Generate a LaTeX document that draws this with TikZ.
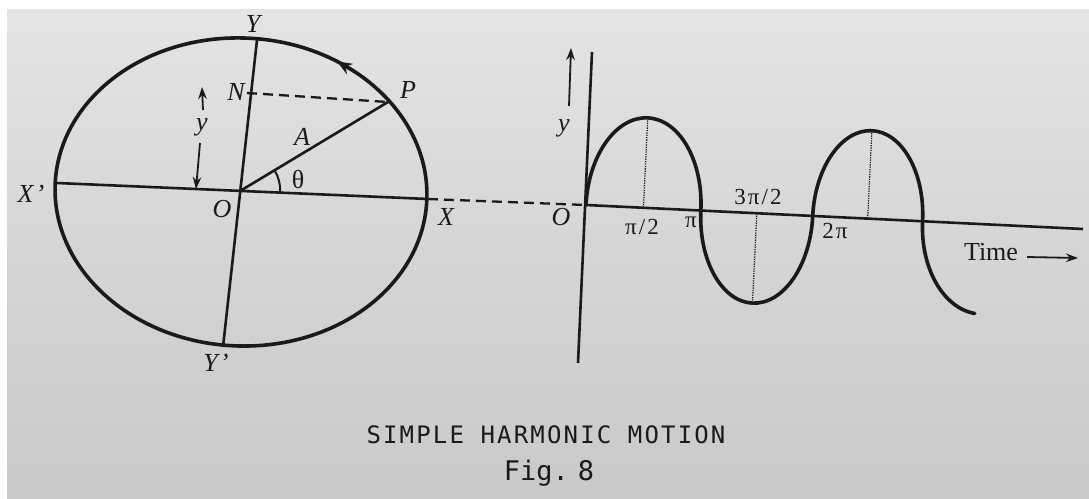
\documentclass[tikz,border=0pt]{standalone}
\usepackage{fontspec}
\setmainfont{Liberation Serif}
\newfontfamily\capfont{DejaVu Sans Mono}
\usetikzlibrary{arrows.meta}
\definecolor{inkc}{HTML}{1A1A1A}
\definecolor{bgtop}{HTML}{E4E4E2}
\definecolor{bgmid}{HTML}{D5D5D3}
\definecolor{bgbot}{HTML}{C9C9C7}
\begin{document}
\begin{tikzpicture}[x=1pt,y=-1pt,
  heavy/.style={draw=inkc, line width=3.6pt},
  axisline/.style={draw=inkc, line width=2.6pt},
  dashline/.style={draw=inkc, line width=2.3pt, dash pattern=on 10pt off 6pt},
  dotline/.style={draw=inkc, line width=1.2pt, dash pattern=on 1.3pt off 1.1pt},
  arrowline/.style={draw=inkc, line width=1.8pt, -{Stealth[length=12pt,width=8.5pt]}},
  lbl/.style={inner sep=0pt, text=inkc, font=\fontsize{26}{28}\selectfont\itshape},
  uplbl/.style={inner sep=0pt, text=inkc, font=\fontsize{26}{28}\selectfont},
  pilbl/.style={inner sep=0pt, text=inkc, font=\fontsize{23}{26}\selectfont\addfontfeatures{LetterSpace=9}},
  timelbl/.style={inner sep=0pt, text=inkc, font=\fontsize{26}{28}\selectfont},
  caplbl/.style={inner sep=0pt, text=inkc, anchor=base, font=\capfont\fontsize{24}{28}\selectfont\addfontfeatures{LetterSpace=9}},
  figlbl/.style={inner sep=0pt, text=inkc, anchor=base, font=\capfont\fontsize{27}{30}\selectfont}
]
\useasboundingbox (0,0) rectangle (1089,498);
\fill[white] (0,0) rectangle (1089,498);
\shade[top color=bgtop, bottom color=bgbot, middle color=bgmid] (7,9) rectangle (1089,498);

% ---------- left: reference circle ----------
\coordinate (C) at (241,192);
\draw[heavy, rotate around={-2.5:(C)}] (C) ellipse [x radius=186, y radius=154];
\begin{scope}[shift={(C)}, rotate=-2.5]
  \coordinate (e1) at ({186*cos(53)},{-154*sin(53)});
  \coordinate (e2) at ({186*cos(61)},{-154*sin(61)});
\end{scope}
\draw[draw=inkc, line width=2.8pt, -{Stealth[length=15pt,width=12pt]}] (e1) -- (e2);

\coordinate (Xl) at (57,183);
\coordinate (Xr) at (428,199);
\coordinate (Yt) at (257,40);
\coordinate (Yb) at (223,347);
\coordinate (O) at (intersection of Xl--Xr and Yt--Yb);
\coordinate (N) at (247,93);
\coordinate (P) at (388,102);
\draw[axisline] (Xl) -- (Xr);
\draw[axisline] (Yt) -- (Yb);
\draw[dashline] (N) -- (P);
\draw[axisline] (O) -- (P);
\draw[draw=inkc, line width=2pt] ([shift={(2.5:40)}]O) arc[start angle=2.5, end angle=-31, radius=40];

\coordinate (ua) at (203,110);
\coordinate (ub) at (202,87);
\coordinate (da) at (200,143);
\coordinate (db) at (196,189);
\draw[arrowline] (ua) -- (ub);
\draw[arrowline] (da) -- (db);

\node[lbl] (lY) at (253,24) {Y};
\node[lbl] (lXp) at (31,194) {X\kern2pt’};
\node[lbl] (lX) at (446,217) {X};
\node[lbl] (lO) at (222,209) {O};
\node[lbl] (lYp) at (216,363) {Y\kern2pt’};
\node[lbl] (lN) at (236,92) {N};
\node[lbl] (lP) at (408,90) {P};
\node[lbl] (lA) at (302,137) {A};
\node[uplbl] (lth) at (298,180) {θ};
\node[lbl] (ly) at (202,127) {y};

% ---------- right: displacement-time graph ----------
\coordinate (G) at (586,205);
\coordinate (Gt) at (592,52);
\coordinate (Gb) at (578,363);
\coordinate (Ge) at (1083,229);
\draw[dashline] (Xr) -- (G);
\draw[axisline] (Gt) -- (Gb);
\draw[axisline] (G) -- (Ge);

\begin{scope}[shift={(G)}, rotate=-2.76]
  \coordinate (w0) at (0,0);
  \draw[heavy, line cap=round] (w0)
    arc[start angle=180, end angle=360, x radius=57.5, y radius=90]
    arc[start angle=180, end angle=0, x radius=56, y radius=90]
    arc[start angle=180, end angle=360, x radius=55, y radius=88]
    arc[start angle=180, end angle=95, x radius=62, y radius=90];
  \coordinate (p1) at (57.5,-90);
  \coordinate (p1b) at (57.5,0);
  \coordinate (p2) at (171,90);
  \coordinate (p2b) at (171,0);
  \coordinate (p3) at (282,-88);
  \coordinate (p3b) at (282,0);
\end{scope}
\draw[dotline] (p1) -- (p1b);
\draw[dotline] (p2) -- (p2b);
\draw[dotline] (p3) -- (p3b);

\coordinate (ga) at (569,106);
\coordinate (gb) at (571,48);
\draw[arrowline] (ga) -- (gb);
\node[lbl] (gy) at (564,128) {y};
\node[lbl] (gO) at (561,217) {O};
\node[pilbl] (t1) at (642,227) {π/2};
\node[pilbl] (t2) at (691,222) {π};
\node[pilbl] (t3) at (758,197) {3π/2};
\node[pilbl] (t4) at (835,231) {2π};
\node[timelbl] (time) at (991,252) {Time};
\coordinate (ta) at (1027,257);
\coordinate (tb) at (1078,258);
\draw[arrowline] (ta) -- (tb);

% ---------- caption ----------
\node[caplbl] (cap) at (546,443) {SIMPLE HARMONIC MOTION};
\node[figlbl] (fig) at (549,480) {Fig.\kern9pt8};
\end{tikzpicture}
\end{document}
